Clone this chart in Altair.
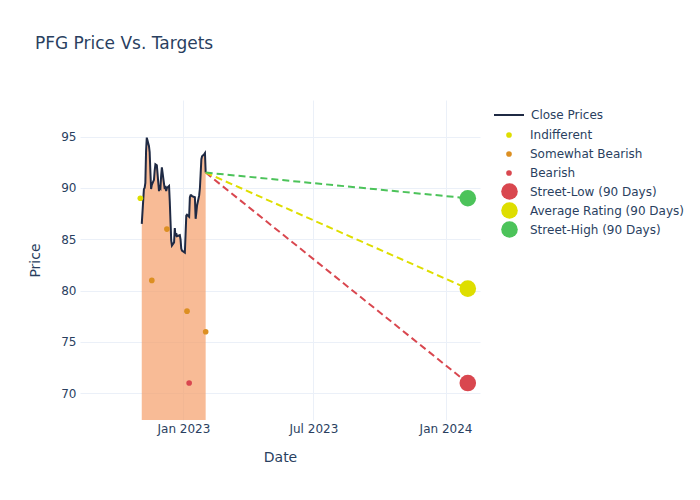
import altair as alt
import pandas as pd

# ---------------- data ----------------
price_dates = pd.bdate_range(
    "2022-11-04", "2023-02-01", freq="C",
    holidays=["2022-11-24", "2022-12-26", "2023-01-02", "2023-01-16"],
).strftime("%Y-%m-%d").tolist()

close_prices = [
    86.5, 89.9, 90.0, 90.5, 93.6, 94.9, 94.1, 93.5, 91.6, 89.9,
    90.3, 90.8, 91.7, 92.3, 92.2, 89.7, 90.1, 90.0, 91.2, 92.0,
    90.4, 89.9, 90.2, 89.7, 90.0, 90.2, 88.7, 86.8, 84.9, 84.4,
    84.7, 86.1, 85.3, 85.6, 85.3, 85.4, 85.0, 84.1, 83.9, 83.7,
    85.5, 87.3, 87.4, 87.2, 89.1, 89.3, 89.3, 89.2, 89.1, 87.0,
    87.6, 88.3, 89.3, 90.0, 91.4, 92.8, 93.1, 93.3, 93.4, 91.5,
]

rating_dates = ["2022-11-02", "2022-11-18", "2022-12-09", "2023-01-06", "2023-01-09", "2023-02-01"]
rating_values = [89, 81, 86, 78, 71, 76]
rating_labels = ["Indifferent", "Somewhat Bearish", "Somewhat Bearish",
                 "Somewhat Bearish", "Bearish", "Somewhat Bearish"]
rating_order = ["Indifferent", "Somewhat Bearish", "Bearish"]
rating_colors = ["#dede00", "#dc8f22", "#d9474f"]

target_date = "2024-02-01"
target_labels = ["Street-Low (90 Days)", "Average Rating (90 Days)", "Street-High (90 Days)"]
target_values = [71, 80.2, 89]
target_colors = ["#d9474f", "#dede00", "#4cc35a"]

price_label = "Close Prices"
price_color = "#1f2a44"
area_color = "#f59e6a"

x_ticks = ["2023-01-01", "2023-07-01", "2024-01-01"]
y_ticks = [70, 75, 80, 85, 90, 95]

# ---------------- tables ----------------
price_df = pd.DataFrame({"date": price_dates, "price": close_prices, "series": price_label})
rating_df = pd.DataFrame({"date": rating_dates, "price": rating_values, "series": rating_labels})
target_df = pd.DataFrame({"date": target_date, "price": target_values, "series": target_labels})
last_date, last_price = price_dates[-1], close_prices[-1]
proj_rows = []
for lab, val in zip(target_labels, target_values):
    proj_rows.append({"date": last_date, "price": last_price, "series": lab})
    proj_rows.append({"date": target_date, "price": val, "series": lab})
proj_df = pd.DataFrame(proj_rows)

# ---------------- encodings ----------------
text_color = "#2a3f5f"
grid_color = "#ebf0f8"

x_enc = alt.X(
    "date:T",
    title="Date",
    scale=alt.Scale(type="utc", domain=["2022-08-10", "2024-02-18"]),
    axis=alt.Axis(values=x_ticks, labelExpr="utcFormat(datum.value, '%b %Y')", ticks=False,
                  domain=False, labelPadding=3, titlePadding=16, labelFlush=False),
)
y_enc = alt.Y(
    "price:Q",
    title="Price",
    scale=alt.Scale(domain=[67.4, 98.57], nice=False, zero=False),
    axis=alt.Axis(values=y_ticks, ticks=False, domain=False, labelPadding=4, titlePadding=18),
)

def legend(lx, ly, offset, row_pad, **kw):
    return alt.Legend(
        title=None, orient="none", legendX=lx, legendY=ly,
        labelFontSize=12, labelColor=text_color, labelFont="DejaVu Sans",
        labelOffset=offset, rowPadding=row_pad, symbolOpacity=1, **kw,
    )

# ---------------- layers ----------------
area = alt.Chart(price_df).mark_area(color=area_color, opacity=0.7, clip=True).encode(
    x=x_enc, y=y_enc, y2=alt.datum(0)
)
line = alt.Chart(price_df).mark_line(strokeWidth=2, clip=True).encode(
    x=x_enc, y=y_enc,
    color=alt.Color("series:N", scale=alt.Scale(domain=[price_label], range=[price_color]),
                    legend=legend(413, -1, 6, 0, symbolType="stroke", symbolSize=900,
                                  symbolStrokeWidth=2)),
)
proj = alt.Chart(proj_df).mark_line(strokeWidth=2, strokeDash=[7, 4], clip=True).encode(
    x=x_enc, y=y_enc,
    color=alt.Color("series:N", scale=alt.Scale(domain=target_labels, range=target_colors),
                    legend=None),
)
ratings = alt.Chart(rating_df).mark_circle(size=32, opacity=1).encode(
    x=x_enc, y=y_enc,
    color=alt.Color("series:N", scale=alt.Scale(domain=rating_order, range=rating_colors),
                    legend=legend(423, 29, 15, 7, symbolType="circle", symbolSize=32,
                                  symbolStrokeWidth=0)),
)
targets = alt.Chart(target_df).mark_circle(size=275, opacity=1).encode(
    x=x_enc, y=y_enc,
    color=alt.Color("series:N", scale=alt.Scale(domain=target_labels, range=target_colors),
                    legend=legend(421, 83, 12, 2, symbolType="circle", symbolSize=275,
                                  symbolStrokeWidth=0)),
)

chart = (
    alt.layer(area, line, proj, ratings, targets)
    .resolve_scale(color="independent")
    .properties(
        width=400,
        height=320,
        title=alt.Title("PFG Price Vs. Targets", anchor="start", frame="group", dx=-45, offset=46,
                        fontSize=17, font="DejaVu Sans", fontWeight="normal", color=text_color),
        autosize=alt.AutoSizeParams(type="none"),
        padding={"left": 72, "top": 92, "right": 212, "bottom": 70},
    )
    .configure_view(stroke=None)
    .configure_axis(
        labelFont="DejaVu Sans", labelFontSize=12, labelColor=text_color,
        titleFont="DejaVu Sans", titleFontSize=14, titleColor=text_color, titleFontWeight="normal",
        gridColor=grid_color, gridWidth=1,
    )
)

chart.save("out.html", embed_options={"renderer": "svg", "actions": False})
